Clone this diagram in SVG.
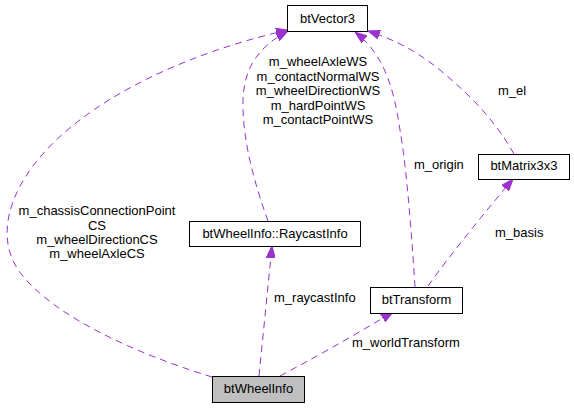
<svg xmlns="http://www.w3.org/2000/svg" width="574" height="408" viewBox="0 0 574 408">
<style>
text{font-family:"Liberation Sans",Arial,sans-serif;font-size:13px;fill:#000}
.n rect{fill:#fff;stroke:#000;stroke-width:1}
.c{fill:none;stroke:#9a32cd;stroke-width:1;stroke-dasharray:7,5}
.m{text-anchor:middle}
</style>
<defs>
<marker id="ah" markerUnits="userSpaceOnUse" viewBox="0 0 12 9" refX="12" refY="4.5" markerWidth="12" markerHeight="9" orient="auto">
<path d="M0,0 L12,4.5 L0,9 z" fill="#9a32cd" stroke="#9a32cd"/>
</marker>
</defs>
<rect width="574" height="408" fill="#fff"/>
<g id="connectors">
<path class="c" marker-end="url(#ah)" d="M212,377 C150,358 60,322 22,275 C0,248 2,210 30,170 C80,100 190,52 288,30"/>
<path class="c" marker-end="url(#ah)" d="M268,221 C255,185 242,140 243,100 C244,70 256,48 288,31"/>
<path class="c" marker-end="url(#ah)" d="M415,287 C412,240 407,170 400,130 C394,90 385,55 355,32"/>
<path class="c" marker-end="url(#ah)" d="M514,154 C495,120 470,95 440,70 C415,50 395,40 368,31"/>
<path class="c" marker-end="url(#ah)" d="M259,376 L272,246"/>
<path class="c" marker-end="url(#ah)" d="M280,376 C310,360 350,338 393,312"/>
<path class="c" marker-end="url(#ah)" d="M428,286 C450,255 485,212 513,179"/>
<text class="m" x="97" y="215">m_chassisConnectionPoint</text>
<text class="m" x="97" y="229.5">CS</text>
<text class="m" x="97" y="243.5">m_wheelDirectionCS</text>
<text class="m" x="97" y="258">m_wheelAxleCS</text>
<text class="m" x="318" y="66">m_wheelAxleWS</text>
<text class="m" x="318" y="80.5">m_contactNormalWS</text>
<text class="m" x="318" y="95">m_wheelDirectionWS</text>
<text class="m" x="318" y="109.5">m_hardPointWS</text>
<text class="m" x="318" y="124">m_contactPointWS</text>
<text x="414" y="169">m_origin</text>
<text x="498" y="95">m_el</text>
<text x="495" y="237">m_basis</text>
<text x="274" y="302">m_raycastInfo</text>
<text x="352" y="347">m_worldTransform</text>
</g>
<g id="btVector3" class="n"><rect x="287.5" y="5.5" width="80" height="26"/><text class="m" x="327.5" y="22.5">btVector3</text></g>
<g id="btWheelInfo_RaycastInfo" class="n"><rect x="189.5" y="221.5" width="171" height="25"/><text class="m" x="275" y="237.5">btWheelInfo::RaycastInfo</text></g>
<g id="btMatrix3x3" class="n"><rect x="478.5" y="154.5" width="91" height="25"/><text class="m" x="524" y="170">btMatrix3x3</text></g>
<g id="btTransform" class="n"><rect x="370.5" y="287.5" width="92" height="26"/><text class="m" x="416.5" y="304">btTransform</text></g>
<g id="btWheelInfo" class="n"><rect x="212.5" y="376.5" width="92" height="26" style="fill:#bfbfbf"/><text class="m" x="258.5" y="393">btWheelInfo</text></g>
</svg>
